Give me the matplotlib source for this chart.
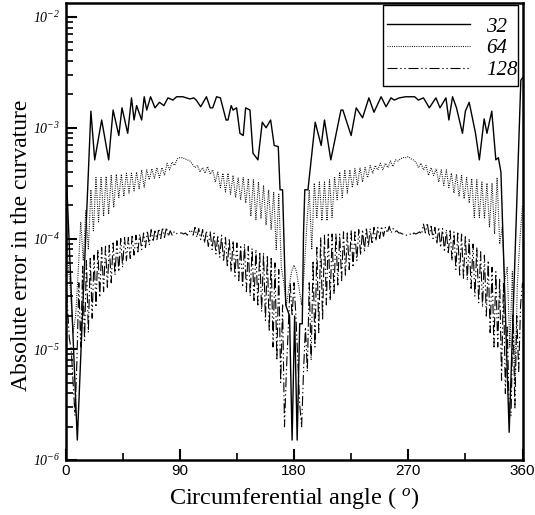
import numpy as np
import matplotlib
matplotlib.use("Agg")
import matplotlib.pyplot as plt
from matplotlib.patches import Rectangle
from matplotlib.ticker import FixedLocator, LogLocator, NullFormatter, FixedFormatter

plt.rcParams['mathtext.fontset'] = 'custom'
plt.rcParams['mathtext.rm'] = 'Liberation Serif:italic'
plt.rcParams['mathtext.it'] = 'Liberation Serif:italic'

# ---------------- data ----------------
series_labels = ["32", "64", "128"]

# N = 32 : (angle in degrees, log10 of absolute error)
angle_32 = [0, 9.3, 20, 23, 28.5, 34, 37.5, 42, 44.5, 49, 52, 54, 56, 60, 62, 64, 67, 70.5,
            74, 77.5, 80.7, 84.6, 87.5, 92.5, 98, 101, 103, 106.5, 111, 114, 116, 119, 122,
            126.5, 128, 130.5, 132, 134.8, 137.4, 140, 141.9, 145.3, 147.7, 151.6, 155, 158,
            161.6, 164.4, 167.6, 169, 171, 173.5, 175, 176.5, 178.5, 180.5, 182.5, 184.5,
            186.5, 187.5, 188.5, 191, 196.7, 201.4, 204, 209, 217, 218.5, 225, 229, 234,
            239, 243, 248.6, 252.5, 256.4, 259, 263, 268, 272, 275, 278, 282, 286.6, 291.8,
            295, 299.7, 302, 304.9, 308, 312.7, 315, 318, 323, 326, 329.8, 332, 335.8, 339,
            341, 343, 349.5, 358.7, 360]
logerr_32 = [-3.23, -5.82, -2.85, -3.29, -2.93, -3.29, -2.84, -3.07, -2.82, -3.05, -2.73,
             -2.93, -2.80, -2.93, -2.72, -2.84, -2.72, -2.82, -2.77, -2.80, -2.73, -2.75,
             -2.72, -2.72, -2.74, -2.73, -2.75, -2.81, -2.72, -2.82, -2.82, -2.72, -2.73,
             -2.93, -2.93, -2.80, -2.84, -2.82, -3.05, -3.07, -2.82, -2.84, -3.23, -3.29,
             -2.95, -3.00, -2.93, -3.16, -3.17, -3.56, -3.56, -4.60, -4.65, -4.70, -5.82,
             -4.70, -5.82, -4.77, -4.77, -3.95, -3.56, -3.56, -2.95, -3.16, -2.93, -3.29,
             -2.84, -2.84, -3.07, -2.82, -2.91, -2.73, -2.86, -2.72, -2.81, -2.73, -2.75,
             -2.73, -2.72, -2.72, -2.72, -2.75, -2.73, -2.82, -2.73, -2.82, -2.73, -2.93,
             -2.72, -2.82, -3.05, -2.85, -2.77, -3.05, -3.29, -2.92, -3.05, -2.85, -3.29,
             -3.27, -3.40, -5.75, -2.57, -2.55]

# N = 64 : samples every 2 degrees from 0 to 360 (log10 of absolute error)
logerr_64 = [
    -3.70, -4.20, -4.50, -4.85, -4.70, -4.30, -3.85, -4.20, -3.75, -4.10,
    -3.56, -3.93, -3.45, -3.85, -3.45, -3.80, -3.44, -3.78, -3.43, -3.72,
    -3.42, -3.63, -3.42, -3.62, -3.41, -3.59, -3.41, -3.57, -3.40, -3.55,
    -3.38, -3.54, -3.38, -3.47, -3.37, -3.46, -3.36, -3.45, -3.36, -3.43,
    -3.32, -3.38, -3.31, -3.34, -3.28, -3.27, -3.27, -3.28, -3.29, -3.30,
    -3.33, -3.36, -3.34, -3.40, -3.36, -3.41, -3.35, -3.42, -3.38, -3.49,
    -3.40, -3.54, -3.41, -3.58, -3.41, -3.60, -3.43, -3.63, -3.45, -3.65,
    -3.45, -3.68, -3.46, -3.80, -3.47, -3.83, -3.49, -3.82, -3.52, -3.88,
    -3.56, -3.92, -3.58, -4.10, -3.60, -4.26, -4.40, -4.60, -4.45, -4.30,
    -4.24, -4.30, -4.45, -4.60, -4.30, -3.90, -3.56, -4.10, -3.50, -3.81,
    -3.49, -3.84, -3.49, -3.84, -3.47, -3.81, -3.45, -3.65, -3.40, -3.63,
    -3.38, -3.59, -3.38, -3.54, -3.37, -3.52, -3.36, -3.49, -3.36, -3.45,
    -3.34, -3.41, -3.34, -3.38, -3.32, -3.38, -3.32, -3.36, -3.30, -3.35,
    -3.29, -3.30, -3.28, -3.27, -3.27, -3.26, -3.28, -3.29, -3.31, -3.36,
    -3.32, -3.38, -3.34, -3.43, -3.36, -3.43, -3.37, -3.49, -3.38, -3.52,
    -3.38, -3.54, -3.41, -3.59, -3.42, -3.62, -3.43, -3.64, -3.45, -3.68,
    -3.46, -3.81, -3.47, -3.81, -3.49, -3.82, -3.50, -3.90, -3.50, -3.96,
    -3.45, -4.05, -3.90, -4.38, -4.26, -4.98, -4.30, -5.30, -4.40, -4.00,
    -3.70]

# N = 128 : samples every 1.5 degrees from 0 to 360 (log10 of absolute error)
logerr_128 = [
    -4.30, -4.60, -4.90, -5.00, -5.30, -5.60, -5.10, -4.40, -4.98, -4.25,
    -4.92, -4.20, -4.85, -4.18, -4.72, -4.15, -4.62, -4.10, -4.53, -4.08,
    -4.48, -4.07, -4.44, -4.06, -4.40, -4.04, -4.33, -4.02, -4.30, -4.00,
    -4.26, -3.99, -4.20, -3.99, -4.18, -3.98, -4.15, -3.97, -4.12, -3.96,
    -4.10, -3.95, -4.08, -3.93, -4.06, -3.92, -4.03, -3.92, -4.01, -3.91,
    -4.00, -3.90, -3.99, -3.90, -3.98, -3.93, -3.97, -3.94, -3.96, -3.95,
    -3.95, -3.95, -3.96, -3.95, -3.97, -3.94, -3.92, -3.97, -3.90, -3.99,
    -3.91, -4.01, -3.92, -4.04, -3.93, -4.07, -3.94, -4.10, -3.95, -4.14,
    -3.97, -4.17, -3.97, -4.21, -3.99, -4.26, -4.00, -4.30, -4.02, -4.34,
    -4.04, -4.38, -4.06, -4.44, -4.05, -4.48, -4.07, -4.52, -4.09, -4.56,
    -4.10, -4.60, -4.12, -4.66, -4.13, -4.74, -4.15, -4.84, -4.18, -4.98,
    -4.22, -5.10, -4.28, -5.30, -4.60, -5.70, -5.20, -4.80, -4.40, -4.70,
    -4.40, -4.70, -5.10, -5.50, -5.70, -5.20, -4.80, -5.20, -4.40, -5.10,
    -4.20, -4.98, -4.08, -4.85, -3.99, -4.74, -3.97, -4.60, -3.95, -4.56,
    -3.96, -4.50, -3.95, -4.42, -3.96, -4.38, -3.94, -4.33, -3.95, -4.28,
    -3.93, -4.26, -3.94, -4.20, -3.92, -4.15, -3.92, -4.12, -3.90, -4.08,
    -3.91, -4.05, -3.90, -4.02, -3.90, -4.00, -3.89, -3.98, -3.90, -3.95,
    -3.89, -3.95, -3.91, -3.94, -3.93, -3.95, -3.95, -3.96, -3.96, -3.97,
    -3.97, -3.96, -3.97, -3.95, -3.96, -3.95, -3.94, -3.96, -3.87, -3.95,
    -3.86, -3.98, -3.89, -4.00, -3.90, -4.05, -3.90, -4.08, -3.91, -4.12,
    -3.92, -4.14, -3.93, -4.20, -3.94, -4.28, -3.95, -4.33, -3.96, -4.36,
    -3.97, -4.38, -4.00, -4.45, -4.05, -4.52, -4.08, -4.58, -4.12, -4.62,
    -4.15, -4.70, -4.20, -4.85, -4.26, -4.98, -4.30, -4.98, -4.36, -5.28,
    -4.40, -5.40, -4.80, -5.55, -5.60, -4.68, -5.53, -4.70, -5.20, -4.60,
    -4.40]

x_ticks = [0, 90, 180, 270, 360]
x_tick_labels = ["0", "90", "180", "270", "360"]
x_minor_ticks = [45, 135, 225, 315]
y_ticks = [1e-6, 1e-5, 1e-4, 1e-3, 1e-2]
y_tick_labels = [r"$10^{-6}$", r"$10^{-5}$", r"$10^{-4}$", r"$10^{-3}$", r"$10^{-2}$"]

# ---------------- plot ----------------
x32 = np.array(angle_32)
y32 = 10.0 ** np.array(logerr_32)
x64 = np.linspace(0, 360, len(logerr_64))
y64 = 10.0 ** np.array(logerr_64)
x128 = np.linspace(0, 360, len(logerr_128))
y128 = 10.0 ** np.array(logerr_128)

fig = plt.figure(figsize=(5.35, 5.15), dpi=100)
ax = fig.add_axes([65.5 / 535, 55 / 515, 457 / 535, 457 / 515])

ax.plot(x32, y32, color="black", lw=1.0, ls="-", label=series_labels[0])
ax.plot(x64, y64, color="black", lw=0.8, ls=(0, (0.8, 1.2)), label=series_labels[1])
ax.plot(x128, y128, color="black", lw=0.8, ls=(0, (9, 2.5, 1.2, 2.5, 1.2, 2.5)), label=series_labels[2])

ax.set_yscale("log")
ax.set_xlim(0, 360)
ax.set_ylim(1e-6, 10 ** (-2 + 14 / 110.6))

ax.xaxis.set_major_locator(FixedLocator(x_ticks))
ax.xaxis.set_major_formatter(FixedFormatter(x_tick_labels))
ax.xaxis.set_minor_locator(FixedLocator(x_minor_ticks))
ax.yaxis.set_major_locator(FixedLocator(y_ticks))
ax.yaxis.set_major_formatter(FixedFormatter(y_tick_labels))
ax.yaxis.set_minor_locator(LogLocator(base=10, subs=np.arange(2, 10)))
ax.yaxis.set_minor_formatter(NullFormatter())

ax.tick_params(axis="both", which="major", direction="in", length=8, width=1.5,
               top=False, right=False)
ax.tick_params(axis="both", which="minor", direction="in", length=5, width=1.2,
               top=False, right=False)
ax.tick_params(axis="x", which="major", pad=3)
ax.tick_params(axis="y", which="major", pad=4)
for lab in ax.get_xticklabels():
    lab.set_fontfamily("Liberation Sans")
    lab.set_fontsize(11)
for lab in ax.get_yticklabels():
    lab.set_fontsize(10)

for sp in ax.spines.values():
    sp.set_linewidth(1.8)

ax.set_xlabel(r"Circumferential angle ( $^{\mathrm{o}}$)", fontfamily="Liberation Serif",
              fontsize=17.5, labelpad=5)
ax.set_ylabel("Absolute error in the curvature", fontfamily="Liberation Serif",
              fontsize=17)
ax.yaxis.set_label_coords(-0.074, 0.47)

# legend: entries without frame, box drawn as a separate rectangle
leg = ax.legend(loc="upper left", bbox_to_anchor=((387 - 65.5) / 457, (460 - 17) / 457),
                frameon=False,
                prop={"family": "Liberation Serif", "style": "italic", "size": 15},
                handlelength=4.0, handletextpad=0.75, labelspacing=0.1,
                borderpad=0.0, borderaxespad=0)
box = Rectangle(((383 - 65.5) / 457, (460 - 86) / 457), (518 - 383) / 457, 81 / 457,
                transform=ax.transAxes, fill=False, edgecolor="black", lw=1.0, zorder=5)
ax.add_patch(box)

fig.savefig("out.png", dpi=100)
